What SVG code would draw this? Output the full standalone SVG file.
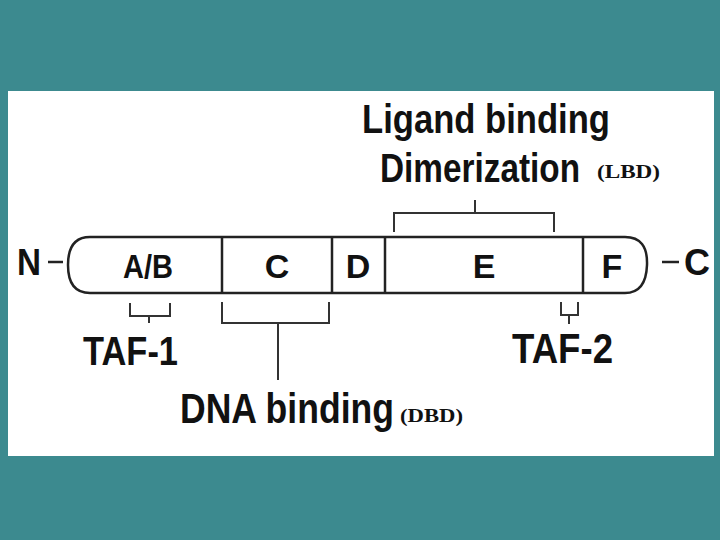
<svg xmlns="http://www.w3.org/2000/svg" width="720" height="540" viewBox="0 0 720 540">
<style>
.t{font-family:"Liberation Sans",Arial,sans-serif;font-weight:bold;fill:#111}
.s{font-family:"Liberation Serif","Times New Roman",serif;font-weight:bold;fill:#111}
.ln{stroke:#222;stroke-width:2.5;fill:none}
.br{stroke:#333;stroke-width:2;fill:none}
</style>
<rect x="0" y="0" width="720" height="540" fill="#3c8a8f"/>
<rect x="8" y="91" width="706" height="365" fill="#ffffff"/>

<g id="receptor-bar">
  <path class="ln" d="M90,237 L625,237 Q648,237 647,265 Q646,293 625,293 L90,293 Q68,293 68,265 Q68,237 90,237 Z"/>
  <line class="ln" x1="222" y1="237" x2="222" y2="293"/>
  <line class="ln" x1="332" y1="237" x2="332" y2="293"/>
  <line class="ln" x1="385" y1="237" x2="385" y2="293"/>
  <line class="ln" x1="583" y1="237" x2="583" y2="293"/>
</g>
<g id="domain-AB"><text class="t" x="148" y="278" font-size="34" text-anchor="middle" textLength="50" lengthAdjust="spacingAndGlyphs">A/B</text></g>
<g id="domain-C"><text class="t" x="277" y="278" font-size="34" text-anchor="middle">C</text></g>
<g id="domain-D"><text class="t" x="358" y="278" font-size="34" text-anchor="middle">D</text></g>
<g id="domain-E"><text class="t" x="484" y="278" font-size="34" text-anchor="middle">E</text></g>
<g id="domain-F"><text class="t" x="612" y="278" font-size="34" text-anchor="middle">F</text></g>

<g id="N-term">
  <text class="t" x="17" y="275" font-size="36" textLength="24" lengthAdjust="spacingAndGlyphs">N</text>
  <line class="ln" x1="48" y1="262" x2="63" y2="262"/>
</g>
<g id="C-term">
  <line class="ln" x1="662" y1="262" x2="679" y2="262"/>
  <text class="t" x="684" y="275" font-size="36" textLength="26" lengthAdjust="spacingAndGlyphs">C</text>
</g>

<g id="connectors">
  <path class="br" d="M394,232 L394,213 L554,213 L554,232"/>
  <line class="br" x1="475" y1="200" x2="475" y2="213"/>
  <path class="br" d="M130,303 L130,316 L170,316 L170,303"/>
  <line class="br" x1="149" y1="316" x2="149" y2="323"/>
  <path class="br" d="M222,302 L222,323 L329,323 L329,302"/>
  <line class="br" x1="278" y1="323" x2="278" y2="380"/>
  <path class="br" d="M561,302 L561,315 L578,315 L578,302"/>
  <line class="br" x1="569" y1="315" x2="569" y2="324"/>
</g>

<g id="label-LBD">
  <text class="t" transform="translate(362,133) scale(1,1.2)" font-size="34.5" textLength="248" lengthAdjust="spacingAndGlyphs">Ligand binding</text>
  <text class="t" transform="translate(380,182) scale(1,1.2)" font-size="33.3" textLength="200" lengthAdjust="spacingAndGlyphs">Dimerization</text>
  <text class="s" x="597" y="178" font-size="18" textLength="63" lengthAdjust="spacingAndGlyphs">(LBD)</text>
</g>
<g id="label-TAF1">
  <text class="t" transform="translate(83,365) scale(1,1.2)" font-size="33.5" textLength="95" lengthAdjust="spacingAndGlyphs">TAF-1</text>
</g>
<g id="label-TAF2">
  <text class="t" transform="translate(512,363) scale(1,1.2)" font-size="35" textLength="101" lengthAdjust="spacingAndGlyphs">TAF-2</text>
</g>
<g id="label-DBD">
  <text class="t" transform="translate(180,423) scale(1,1.2)" font-size="35" textLength="214" lengthAdjust="spacingAndGlyphs">DNA binding</text>
  <text class="s" x="400" y="422" font-size="18" textLength="63" lengthAdjust="spacingAndGlyphs">(DBD)</text>
</g>
</svg>
